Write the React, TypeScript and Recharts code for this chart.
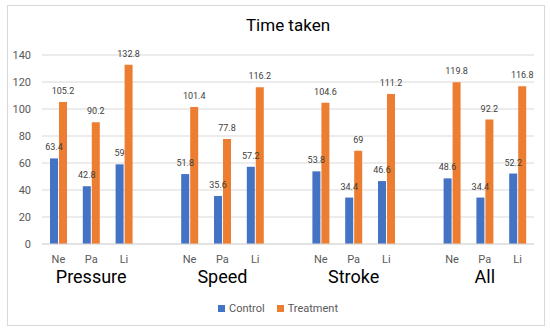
import { BarChart, Bar, XAxis, YAxis, CartesianGrid, LabelList } from "recharts";

const groups = ["Pressure", "Speed", "Stroke", "All"];
const methods = ["Ne", "Pa", "Li"];
const control = [
  [63.4, 42.8, 59],
  [51.8, 35.6, 57.2],
  [53.8, 34.4, 46.6],
  [48.6, 34.4, 52.2],
];
const treatment = [
  [105.2, 90.2, 132.8],
  [101.4, 77.8, 116.2],
  [104.6, 69, 111.2],
  [119.8, 92.2, 116.8],
];
const yTicks = [0, 20, 40, 60, 80, 100, 120, 140];
const seriesNames = ["Control", "Treatment"];
const seriesColors = ["#4472C4", "#ED7D31"];

type Row = { key: string; method: string; group: string; control: number | null; treatment: number | null };

// one empty slot between groups, like the blank rows in the sheet
const rows: Row[] = [];
groups.forEach((g, gi) => {
  if (gi > 0) rows.push({ key: "gap" + gi, method: "", group: "", control: null, treatment: null });
  methods.forEach((m, mi) => {
    rows.push({
      key: g + m,
      method: m,
      group: mi === 1 ? g : "",
      control: control[gi][mi],
      treatment: treatment[gi][mi],
    });
  });
});

const font = "Roboto, 'Open Sans', sans-serif";

const CategoryTick = (props: any) => {
  const { x, y, payload } = props;
  const row = rows[payload.index];
  if (!row) return null;
  return (
    <g>
      <text x={x} y={y + 11} textAnchor="middle" fill="#595959" fontSize={11} fontFamily={font}>
        {row.method}
      </text>
      {row.group && (
        <text x={x} y={y + 31} textAnchor="middle" fill="#000" fontSize={18} fontFamily={font}>
          {row.group}
        </text>
      )}
    </g>
  );
};

const valueLabel = (props: any) => {
  const { x, y, width, value } = props;
  if (value == null) return null;
  return (
    <text x={x + width / 2} y={y - 8} textAnchor="middle" fill="#404040" fontSize={9} fontFamily={font}>
      {value}
    </text>
  );
};

export default function App() {
  return (
    <div style={{ position: "absolute", left: 0, top: 0, width: 550, height: 333, background: "#fff", fontFamily: font }}>
      <div
        style={{
          position: "absolute",
          left: 7,
          top: 5,
          width: 538,
          height: 321,
          border: "1px solid #d9d9d9",
          boxSizing: "border-box",
        }}
      />
      <div style={{ position: "absolute", top: 15, left: 42, width: 492, textAlign: "center", fontSize: 17, color: "#000" }}>
        Time taken
      </div>
      <BarChart
        width={550}
        height={333}
        data={rows}
        margin={{ top: 55, right: 16, bottom: 59, left: 0 }}
        barSize={8}
        barGap={1}
      >
        <CartesianGrid vertical={false} stroke="#d9d9d9" />
        <XAxis
          dataKey="key"
          height={30}
          axisLine={{ stroke: "#d9d9d9" }}
          tickLine={false}
          interval={0}
          tick={<CategoryTick />}
        />
        <YAxis
          width={42}
          domain={[0, 140]}
          ticks={yTicks}
          axisLine={false}
          tickLine={false}
          tickMargin={5}
          tick={{ fill: "#595959", fontSize: 11, fontFamily: font }}
        />
        <Bar dataKey="control" name="Control" fill={seriesColors[0]} isAnimationActive={false}>
          <LabelList dataKey="control" content={valueLabel} />
        </Bar>
        <Bar dataKey="treatment" name="Treatment" fill={seriesColors[1]} isAnimationActive={false}>
          <LabelList dataKey="treatment" content={valueLabel} />
        </Bar>
      </BarChart>
      <div
        style={{
          position: "absolute",
          top: 302,
          left: 6,
          width: 544,
          display: "flex",
          justifyContent: "center",
          gap: 12,
          fontSize: 11,
          color: "#595959",
        }}
      >
        {seriesNames.map((n, i) => (
          <span key={n} style={{ display: "flex", alignItems: "center" }}>
            <span style={{ width: 7, height: 7, background: seriesColors[i], marginRight: 4 }} />
            {n}
          </span>
        ))}
      </div>
    </div>
  );
}
